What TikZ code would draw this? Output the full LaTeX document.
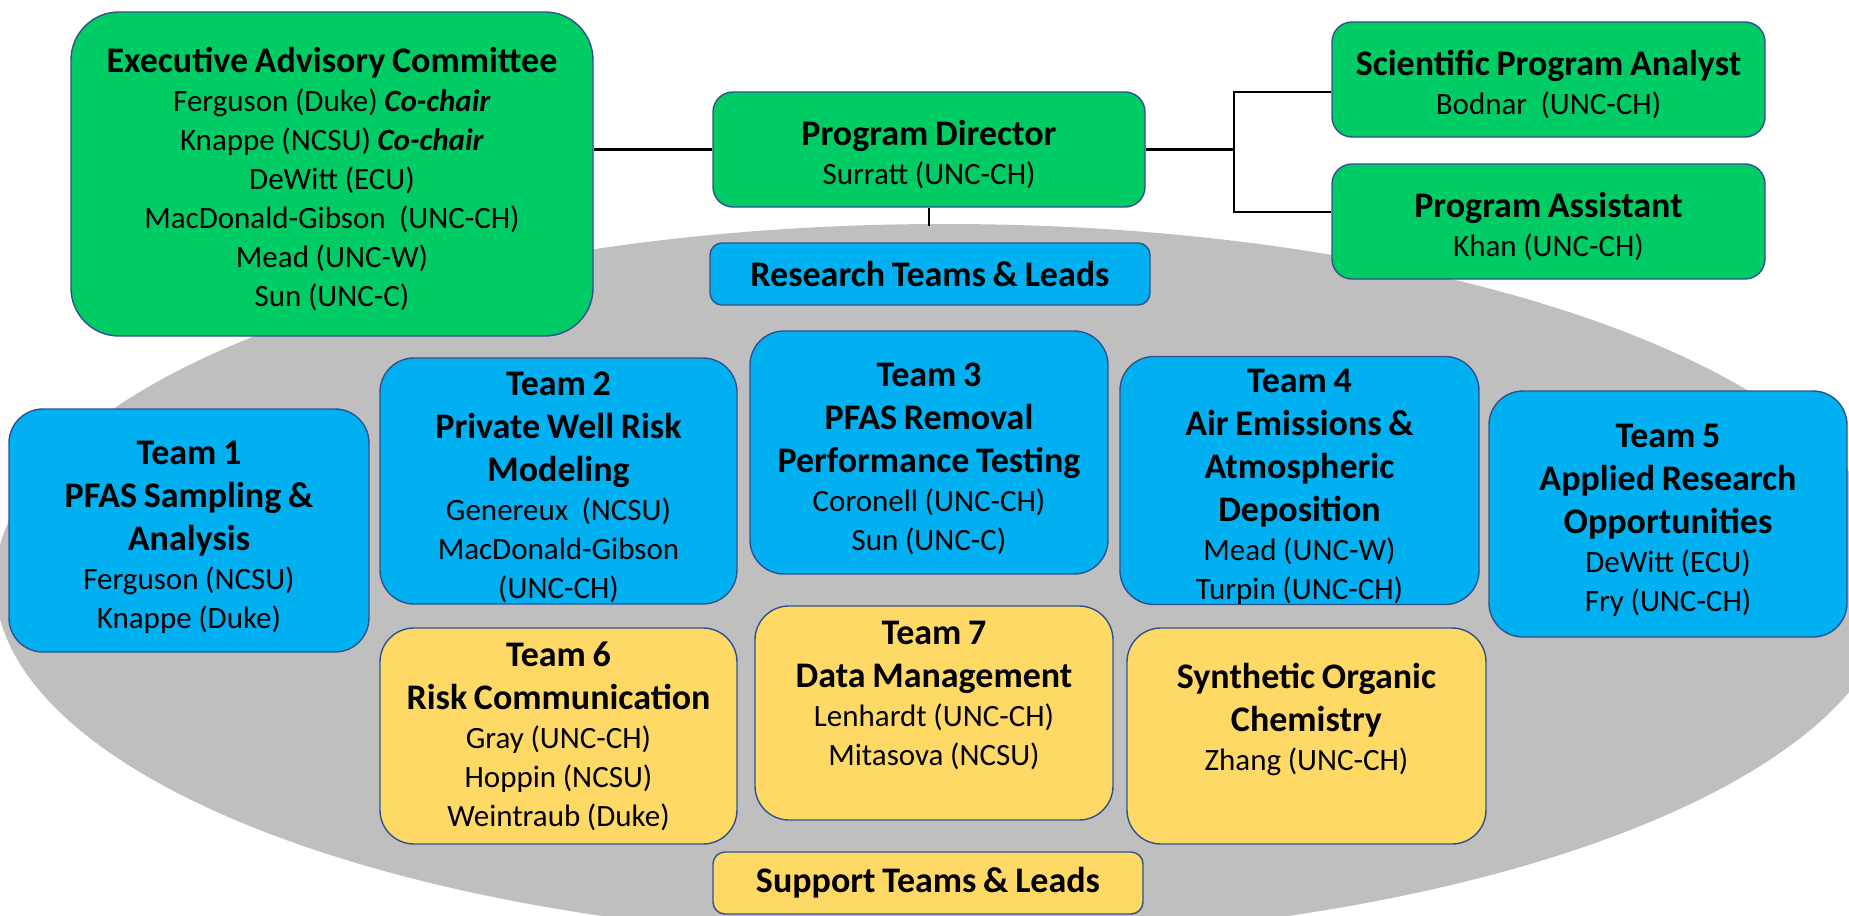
\documentclass[tikz,border=0pt]{standalone}
\usepackage{fontspec}
\setmainfont{Carlito}
\definecolor{boxgreen}{RGB}{0,204,102}
\definecolor{boxblue}{RGB}{0,176,240}
\definecolor{boxyellow}{RGB}{255,217,102}
\definecolor{ellgray}{RGB}{191,191,191}
\definecolor{edgeblue}{RGB}{47,82,143}
\newcommand\ttl{\fontsize{18}{21.5}\selectfont\bfseries}
\newcommand\bdy{\fontsize{15.5}{19.5}\selectfont\mdseries}
\tikzset{
  orgbox/.style={draw=edgeblue, line width=0.7pt, inner sep=0pt, align=center},
  lower/.style={execute at begin node={\rule{0pt}{18pt}}},
  greenbox/.style={orgbox, fill=boxgreen, lower},
  bluebox/.style={orgbox, fill=boxblue},
  yellowbox/.style={orgbox, fill=boxyellow},
  conn/.style={line width=1.4pt, black}
}
\begin{document}
\begin{tikzpicture}[x=0.5pt,y=-0.5pt]
\useasboundingbox (0,0) rectangle (1849,916);
\clip (0,0) rectangle (1849,916);
\fill[white] (0,0) rectangle (1849,916);
\fill[ellgray] (945,582) ellipse [x radius=475pt, y radius=179pt];

% top row
\node[greenbox, rounded corners=24pt, minimum width=261pt, minimum height=162pt, text width=254pt] (eac) at (332,174)
  {{\ttl Executive Advisory Committee\par}\bdy Ferguson (Duke) \textbf{\textit{Co-chair}}\\ Knappe (NCSU) \textbf{\textit{Co-chair}}\\ DeWitt (ECU)\\ MacDonald-Gibson~ (UNC-CH)\\ Mead (UNC-W)\\ Sun (UNC-C)\par};
\node[greenbox, rounded corners=10pt, minimum width=216pt, minimum height=57.5pt, text width=206pt] (pd) at (929,149.5)
  {{\ttl Program Director\par}\bdy Surratt (UNC-CH)\par};
\node[greenbox, rounded corners=10pt, minimum width=216.5pt, minimum height=57.5pt, text width=210pt] (spa) at (1548.5,79.5)
  {{\ttl Scientific Program Analyst\par}\bdy Bodnar~ (UNC-CH)\par};
\node[greenbox, rounded corners=10pt, minimum width=216.5pt, minimum height=57.5pt, text width=206pt] (pa) at (1548.5,221.5)
  {{\ttl Program Assistant\par}\bdy Khan (UNC-CH)\par};

% section labels
\node[bluebox, rounded corners=6pt, minimum width=220pt, minimum height=31pt, text width=210pt] (research) at (930,274)
  {\ttl Research Teams \& Leads\par};
\node[yellowbox, rounded corners=6pt, minimum width=215pt, minimum height=31pt, text width=205pt] (support) at (928,883)
  {\ttl Support Teams \& Leads\par};

% research teams
\node[bluebox, lower, rounded corners=17pt, minimum width=180pt, minimum height=121.5pt, text width=172pt] (t1) at (189,530.5)
  {{\ttl Team 1\\ PFAS Sampling \&\\ Analysis\par}\bdy Ferguson (NCSU)\\ Knappe (Duke)\par};
\node[bluebox, lower, rounded corners=17pt, minimum width=178.5pt, minimum height=123pt, text width=170pt] (t2) at (558.5,481)
  {{\ttl Team 2\\ Private Well Risk\\ Modeling\par}\bdy Genereux~ (NCSU)\\ MacDonald-Gibson\\ (UNC-CH)\par};
\node[bluebox, lower, rounded corners=17pt, minimum width=179pt, minimum height=121.5pt, text width=171pt] (t3) at (929,452.5)
  {{\ttl Team 3\\ PFAS Removal\\ Performance Testing\par}\bdy Coronell (UNC-CH)\\ Sun (UNC-C)\par};
\node[bluebox, lower, rounded corners=17pt, minimum width=179.5pt, minimum height=123.5pt, text width=171pt] (t4) at (1299.5,480.5)
  {{\ttl Team 4\\ Air Emissions \&\\ Atmospheric\\ Deposition\par}\bdy Mead (UNC-W)\\ Turpin (UNC-CH)\par};
\node[bluebox, lower, rounded corners=17pt, minimum width=179pt, minimum height=123pt, text width=171pt] (t5) at (1668,514)
  {{\ttl Team 5\\ Applied Research\\ Opportunities\par}\bdy DeWitt (ECU)\\ Fry (UNC-CH)\par};

% support teams
\node[yellowbox, rounded corners=17pt, minimum width=178.5pt, minimum height=108pt, text width=170pt] (t6) at (558.5,736)
  {{\ttl Team 6\\ Risk Communication\par}\bdy Gray (UNC-CH)\\ Hoppin (NCSU)\\ Weintraub (Duke)\par};
\node[yellowbox, rounded corners=17pt, minimum width=179pt, minimum height=107pt, text width=171pt] (t7) at (934,713)
  {{\ttl Team 7\\ Data Management\par}\bdy Lenhardt (UNC-CH)\\ Mitasova (NCSU)\\ \mbox{}\par};
\node[yellowbox, rounded corners=17pt, minimum width=179.5pt, minimum height=108pt, text width=171pt] (soc) at (1306.5,736)
  {{\ttl Synthetic Organic\\ Chemistry\par}\bdy Zhang (UNC-CH)\\ \mbox{}\par};

% connectors
\coordinate (bt) at (1234,92);
\coordinate (bb) at (1234,212);
\coordinate (etop) at (929,226);
\draw[conn] (pd.west) -- (pd.west -| eac.east);
\draw[conn] (pd.east) -- (pd.east -| bt);
\draw[conn] (spa.west |- bt) -- (bt) -- (bb) -- (pa.west |- bb);
\draw[conn] (pd.south) -- (etop);
\end{tikzpicture}
\end{document}
